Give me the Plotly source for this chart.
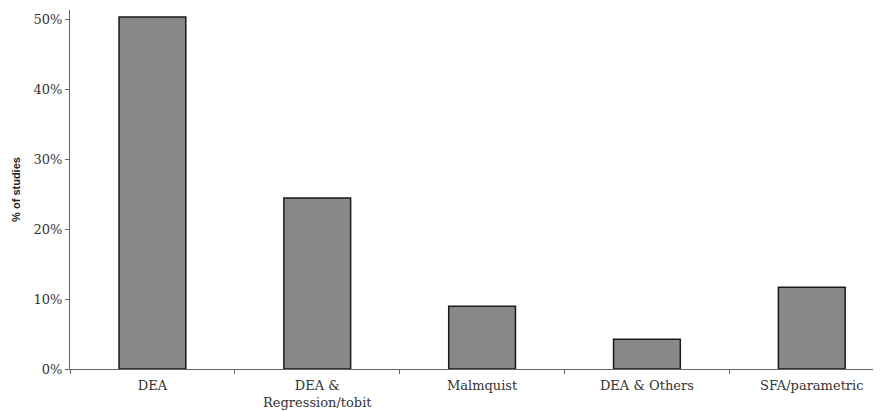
import plotly.graph_objects as go

categories = ["DEA", "DEA &<br>Regression/tobit", "Malmquist", "DEA & Others", "SFA/parametric"]
shares = [0.504, 0.245, 0.090, 0.0425, 0.117]
y_ticks = [0, 0.1, 0.2, 0.3, 0.4, 0.5]
y_tick_labels = ["0%", "10%", "20%", "30%", "40%", "50%"]

fig = go.Figure()
fig.add_trace(go.Bar(
    x=categories, y=shares, width=0.405,
    marker=dict(color="#888888", line=dict(color="#1a1a1a", width=1.5)),
))

# page body has an 8px margin, so the figure is sized/offset to compensate
fig.update_layout(
    width=873, height=403,
    margin=dict(l=62, r=0, t=2, b=42),
    paper_bgcolor="white", plot_bgcolor="white",
    showlegend=False,
    font=dict(family="DejaVu Serif", size=13, color="#333333"),
)
fig.update_xaxes(
    type="category", range=[-0.5, 4.42],
    showline=True, linecolor="#666666", linewidth=1.2,
    ticks="outside", tickson="boundaries", ticklen=4, tickcolor="#666666",
    showgrid=False, zeroline=False, ticklabelstandoff=4,
    tickfont=dict(family="DejaVu Serif", size=13, color="#333333"),
)
fig.update_yaxes(
    range=[0, 0.514],
    tickvals=y_ticks, ticktext=y_tick_labels,
    showline=True, linecolor="#666666", linewidth=1.2,
    ticks="outside", ticklen=4, tickcolor="#666666",
    showgrid=False, zeroline=False,
    tickfont=dict(family="DejaVu Serif", size=13, color="#333333"),
    title=dict(text="<b>% of studies</b>", font=dict(family="Liberation Sans", size=11, color="#222222"), standoff=10),
)

fig.write_html("out.html")
